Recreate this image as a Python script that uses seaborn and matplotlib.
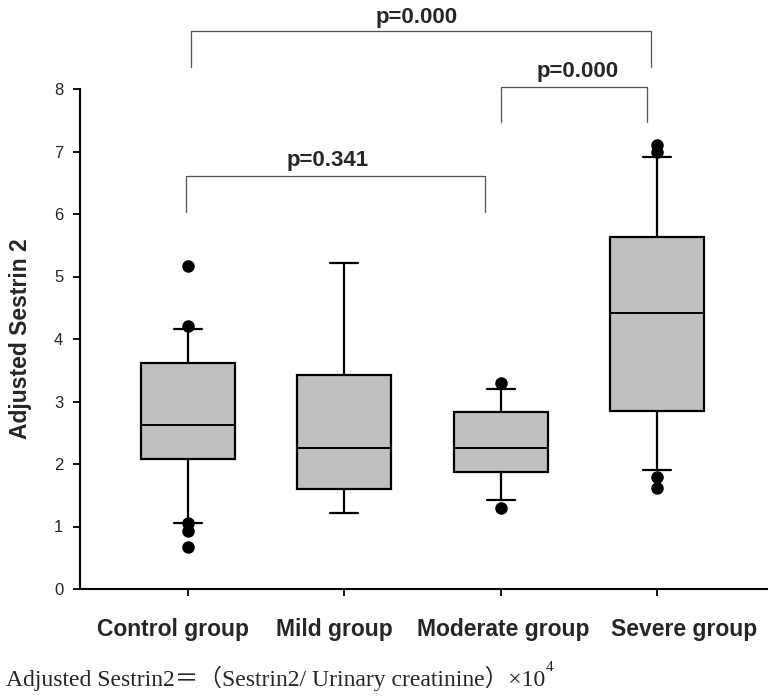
import matplotlib
matplotlib.use("Agg")
import matplotlib.pyplot as plt
import matplotlib.transforms as mtrans
import seaborn as sns

# data (box plot summary per group)
groups = ['Control group', 'Mild group', 'Moderate group', 'Severe group']
q1 = [2.08, 1.60, 1.87, 2.85]
medians = [2.63, 2.26, 2.26, 4.42]
q3 = [3.62, 3.42, 2.83, 5.63]
whisker_low = [1.05, 1.22, 1.42, 1.90]
whisker_high = [4.16, 5.21, 3.20, 6.91]
outliers = [[5.17, 4.21, 1.06, 0.93, 0.68],
            [],
            [3.29, 1.30],
            [7.10, 7.00, 1.80, 1.61]]

# significance brackets: (x start, x end, bar height, leg bottom, text x, text y, label)
brackets = [(0.02, 2.96, 8.93, 8.36, 1.46, 9.06, 'p=0.000'),
            (2.00, 2.935, 8.04, 7.48, 2.49, 8.19, 'p=0.000'),
            (-0.015, 1.90, 6.61, 6.04, 0.895, 6.77, 'p=0.341')]

caption = 'Adjusted Sestrin2＝（Sestrin2/ Urinary creatinine）×10'
caption_sup = '4'

sns.set_style("ticks")
plt.rcParams['font.family'] = ['Liberation Sans', 'Noto Sans CJK SC']

fig = plt.figure(figsize=(7.74, 6.98), dpi=100)
ax = fig.add_axes([80/774, 1 - 589/698, (767 - 80)/774, 500/698])

stats = []
for i, g in enumerate(groups):
    stats.append(dict(label=g, med=medians[i], q1=q1[i], q3=q3[i],
                      whislo=whisker_low[i], whishi=whisker_high[i],
                      fliers=outliers[i]))

ax.bxp(stats, positions=range(len(groups)), widths=0.6, capwidths=0.18,
       patch_artist=True, showfliers=True,
       boxprops=dict(facecolor='#c0c0c0', edgecolor='black', linewidth=1.6),
       medianprops=dict(color='black', linewidth=1.4),
       whiskerprops=dict(color='black', linewidth=1.6),
       capprops=dict(color='black', linewidth=1.6),
       flierprops=dict(marker='o', markerfacecolor='black',
                       markeredgecolor='black', markersize=8))

ax.set_xlim(-0.691, 3.704)
ax.set_ylim(0, 8)
ax.set_yticks(range(0, 9))
sns.despine(ax=ax)
for s in ['left', 'bottom']:
    ax.spines[s].set_linewidth(1.5)
    ax.spines[s].set_color('black')
ax.tick_params(axis='both', direction='out', length=5, width=1.3, color='black')
ax.tick_params(axis='y', labelsize=12, pad=7)
ax.tick_params(axis='x', labelsize=16.5, pad=16)
ax.set_xticklabels(groups, fontweight='bold')
ax.set_ylabel('Adjusted Sestrin 2', fontsize=16.5, fontweight='bold', labelpad=16)

# the original labels sit a little off their ticks
label_shift = [-15.5, -9.5, 3, 27.5]
for lab, dx in zip(ax.get_xticklabels(), label_shift):
    lab.set_transform(lab.get_transform() + mtrans.ScaledTranslation(dx/100, 0, fig.dpi_scale_trans))

for x0, x1, yb, yl, tx, ty, txt in brackets:
    ax.plot([x0, x0, x1, x1], [yl, yb, yb, yl], color='#555555', linewidth=0.9,
            clip_on=False)
    ax.text(tx, ty, txt, ha='center', va='baseline', fontsize=16,
            fontweight='bold', clip_on=False)

cap = fig.text(6/774, 1 - 686/698, caption, fontsize=17, va='baseline', ha='left',
               family=['Liberation Serif', 'Noto Sans CJK SC'])
fig.canvas.draw()
bb = cap.get_window_extent()
fig.text((bb.x1 + 1)/774, (1 - 686/698) + 15/698, caption_sup, fontsize=11,
         va='baseline', ha='left', family='Liberation Serif')

fig.savefig('out.png', dpi=100)
